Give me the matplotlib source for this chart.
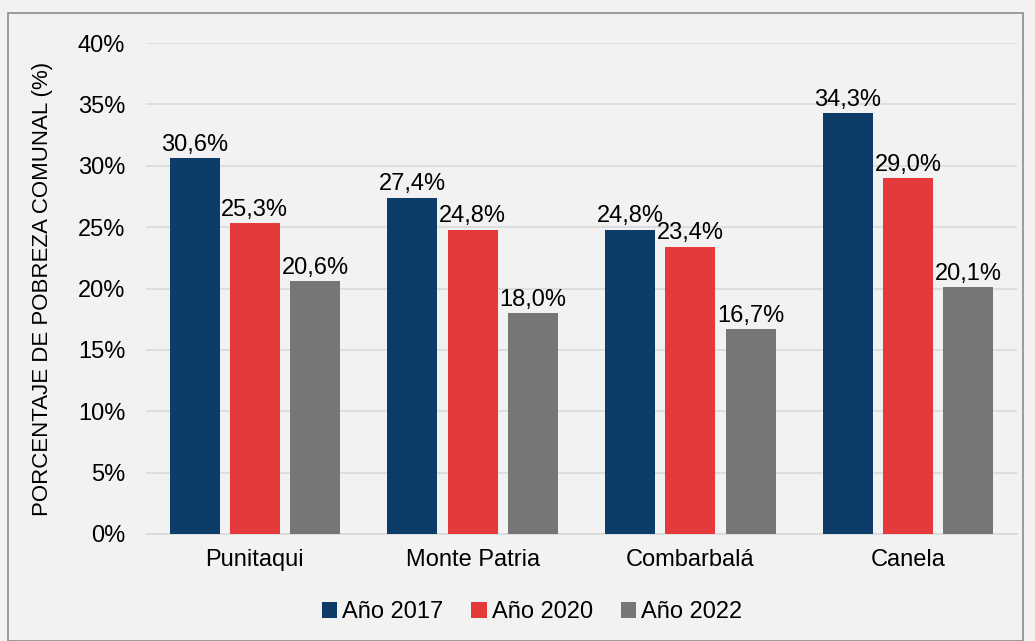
import matplotlib
matplotlib.use("Agg")
import matplotlib.pyplot as plt
import numpy as np
from matplotlib.patches import Rectangle

plt.rcParams['font.family'] = ['Liberation Sans', 'DejaVu Sans']

categories = ["Punitaqui", "Monte Patria", "Combarbalá", "Canela"]
series_names = ["Año 2017", "Año 2020", "Año 2022"]
v2017 = [30.6, 27.4, 24.8, 34.3]
v2020 = [25.3, 24.8, 23.4, 29.0]
v2022 = [20.6, 18.0, 16.7, 20.1]
colors = ["#0e3c69", "#e5393b", "#767676"]
yticks = [0, 5, 10, 15, 20, 25, 30, 35, 40]

fig = plt.figure(figsize=(10.35, 6.41), dpi=100, facecolor="#f2f2f2")
fig.patches.append(Rectangle((8/1035, 0.0), 1015/1035, 1 - 13/641, transform=fig.transFigure,
                             fill=False, edgecolor="#8c8c8c", linewidth=1.2))
ax = fig.add_axes([146/1035, (641-534)/641, (1017-146)/1035, (534-43)/641])
ax.set_facecolor("#f2f2f2")

x = np.arange(len(categories))
w = 0.23
pitch = 0.277
for i, (vals, name) in enumerate(zip([v2017, v2020, v2022], series_names)):
    pos = x + (i - 1) * pitch
    ax.bar(pos, vals, width=w, color=colors[i], label=name, zorder=3)
    for xp, v in zip(pos, vals):
        ax.text(xp, v + 0.2, f"{v:.1f}%".replace(".", ","), ha="center", va="bottom",
                fontsize=17, color="#000000")

ax.set_xlim(-0.5, 3.5)
ax.set_ylim(0, 40)
ax.set_yticks(yticks)
ax.set_yticklabels([f"{t}%" for t in yticks], fontsize=17)
ax.set_xticks(x)
ax.set_xticklabels(categories, fontsize=17)
ax.tick_params(axis='y', length=0, pad=15)
ax.tick_params(axis='x', length=0, pad=11)
ax.grid(axis='y', color="#d9d9d9", linewidth=1.2, zorder=0)
for s in ['top', 'right', 'left']:
    ax.spines[s].set_visible(False)
ax.spines['bottom'].set_color("#d9d9d9")
ax.spines['bottom'].set_linewidth(1.2)
ax.set_ylabel("PORCENTAJE DE POBREZA COMUNAL (%)", fontsize=16)
ax.yaxis.set_label_coords(-0.107, 0.5)

fig.legend(loc='center', bbox_to_anchor=(532/1035, 1 - 612/641), ncol=3, frameon=False,
           fontsize=17, handlelength=0.65, handleheight=0.65, handletextpad=0.2, columnspacing=1.2)

fig.savefig("out.png", dpi=100, facecolor=fig.get_facecolor())
